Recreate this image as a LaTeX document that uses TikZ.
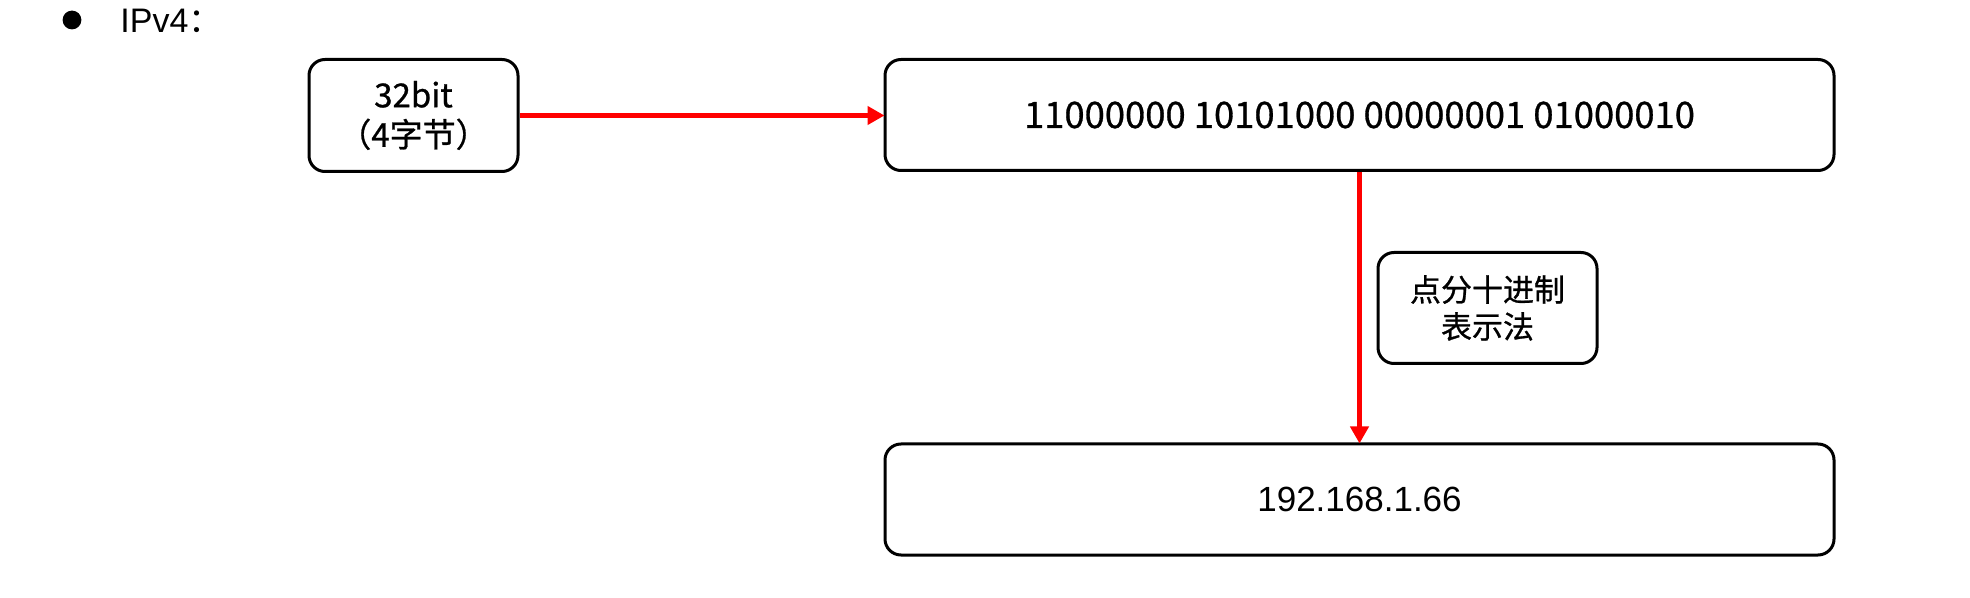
\documentclass[tikz,border=0pt]{standalone}
\usepackage{fontspec}
\setmainfont{Noto Sans CJK SC}
\newfontfamily\cjkm[FakeBold=0.8]{Noto Sans CJK SC}
\newfontfamily\arialf{Liberation Sans}
\usetikzlibrary{arrows.meta}
\tikzset{
  box/.style={draw=black, line width=1.5pt, rounded corners=8pt, fill=white, align=center, inner sep=0pt},
  redarrow/.style={draw=red, line width=2.7pt, -{Triangle[width=9pt,length=8.5pt]}, shorten >=-0.5pt},
}
\begin{document}
\begin{tikzpicture}[x=0.5pt,y=-0.5pt]
\path[use as bounding box] (0,0) rectangle (1970,598);
\fill[black] (72,20) circle (4.7pt);
\node[anchor=west, inner sep=0pt] (title) at (120,21) {\fontsize{17}{20}\selectfont\arialf IPv4\rmfamily：};
\node[box, minimum width=104.5pt, minimum height=56pt, font=\fontsize{16.5}{19.8}\selectfont\cjkm] (bits) at (413.5,115.5) {32bit\\（4字节）};
\node[box, minimum width=474.5pt, minimum height=55.5pt, font=\fontsize{18.2}{20}\selectfont\cjkm] (bin) at (1359.5,115) {11000000 10101000 00000001 01000010};
\node[box, minimum width=474.5pt, minimum height=55.5pt, font=\fontsize{17.5}{20}\selectfont\arialf] (dec) at (1359.5,499.5) {192.168.1.66};
\node[box, minimum width=109.5pt, minimum height=55.5pt, font=\fontsize{15.5}{18.5}\selectfont\cjkm] (lbl) at (1487.5,308) {点分十进制\\表示法};
\draw[redarrow] (bits.east) -- (bits.east -| bin.west);
\draw[redarrow] (bin.south) -- (dec.north);
\end{tikzpicture}
\end{document}
